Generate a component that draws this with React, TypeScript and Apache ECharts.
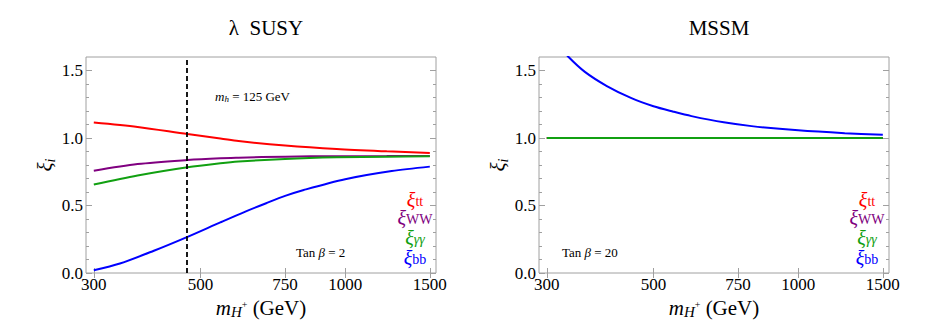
import React, { useEffect, useRef } from 'react';
import * as echarts from 'echarts';

// ---------- data ----------
const massLeft = [300, 370, 470, 550, 600, 750, 960, 1220, 1500];
const xiTTLeft = [1.114, 1.082, 1.029, 0.997, 0.977, 0.944, 0.918, 0.901, 0.889];
const xiWWLeft = [0.758, 0.807, 0.837, 0.85, 0.854, 0.862, 0.865, 0.866, 0.867];
const xiGGLeft = [0.655, 0.722, 0.783, 0.813, 0.826, 0.845, 0.857, 0.862, 0.864];
const massLeftBB = [300, 340, 400, 470, 550, 620, 685, 750, 820, 1000, 1250, 1500];
const xiBBLeft = [0.02, 0.07, 0.165, 0.268, 0.375, 0.455, 0.517, 0.571, 0.615, 0.695, 0.755, 0.788];

const massRightFlat = [300, 1500];
const xiTTRight = [1.0, 1.0];
const xiWWRight = [1.0, 1.0];
const xiGGRight = [1.0, 1.0];
const massRightBB = [300, 320, 333, 360, 400, 450, 500, 550, 600, 700, 800, 1000, 1250, 1500];
const xiBBRight = [1.8, 1.675, 1.6, 1.49, 1.385, 1.295, 1.235, 1.195, 1.162, 1.116, 1.088, 1.057, 1.036, 1.024];

const dashedMass = 469;

const xTicks = [300, 500, 750, 1000, 1500];
const yMajorTicks = [0, 0.5, 1.0, 1.5];
const yMinorTicks = [0.1, 0.2, 0.3, 0.4, 0.6, 0.7, 0.8, 0.9, 1.1, 1.2, 1.3, 1.4];

const titles = ['λ  SUSY', 'MSSM'];

const X_MIN = 289;
const X_MAX = 1545;
const Y_MIN = 0;
const Y_MAX = 1.6;

const FONT = 'Liberation Serif';
const RED = '#ff0000';
const PURPLE = '#800080';
const GREEN = '#11a011';
const BLUE = '#0000ff';
const FRAME = '#a0a0a0';

const zip = (xs: number[], ys: number[]) => xs.map((x, i) => [x, ys[i]]);

function xAxesFor(gi: number) {
  const common = {
    type: 'log',
    logBase: 10,
    gridIndex: gi,
    min: X_MIN,
    max: X_MAX,
    axisLine: { show: false },
    splitLine: { show: false },
    axisTick: {
      show: true,
      inside: true,
      length: 5,
      lineStyle: { color: FRAME },
      customValues: xTicks,
    },
  };
  return [
    {
      ...common,
      position: 'bottom',
      axisLabel: {
        customValues: xTicks,
        fontFamily: FONT,
        fontSize: 17,
        fontWeight: 'normal',
        color: '#000',
        margin: 3,
        formatter: (v: number) => String(Math.round(v)),
      },
      name: '{m|m}{h|H}{p|+}{g| (GeV)}',
      nameLocation: 'middle',
      nameGap: 22,
      nameTextStyle: {
        fontFamily: FONT,
        color: '#000',
        rich: {
          m: { fontFamily: FONT, fontSize: 21, fontStyle: 'italic', color: '#000' },
          h: { fontFamily: FONT, fontSize: 15, fontStyle: 'italic', color: '#000', padding: [8, 0, 0, 0] },
          p: { fontFamily: FONT, fontSize: 10, color: '#000', padding: [0, 0, 8, 0] },
          g: { fontFamily: FONT, fontSize: 21, color: '#000' },
        },
      },
    },
    {
      ...common,
      position: 'top',
      axisLabel: { show: false },
    },
  ];
}

function yAxesFor(gi: number) {
  const base = {
    type: 'value',
    gridIndex: gi,
    min: Y_MIN,
    max: Y_MAX,
    axisLine: { show: false },
    splitLine: { show: false },
  };
  const major = (pos: string, labels: boolean) => ({
    ...base,
    position: pos,
    axisTick: { show: true, inside: true, length: 6, lineStyle: { color: FRAME }, customValues: yMajorTicks },
    axisLabel: labels
      ? {
          customValues: yMajorTicks,
          fontFamily: FONT,
          fontSize: 17,
          fontWeight: 'normal',
          color: '#000',
          margin: 3,
          formatter: (v: number) => v.toFixed(1),
        }
      : { show: false },
    ...(labels
      ? {
          name: '{x|ξ}{s|i}',
          nameLocation: 'middle',
          nameGap: 29,
          nameRotate: 90,
          nameTextStyle: {
            fontFamily: FONT,
            rich: {
              x: { fontFamily: FONT, fontSize: 21, fontStyle: 'italic', color: '#000' },
              s: { fontFamily: FONT, fontSize: 14, fontStyle: 'italic', color: '#000', padding: [10, 0, 0, 0] },
            },
          },
        }
      : {}),
  });
  const minor = (pos: string) => ({
    ...base,
    position: pos,
    axisTick: { show: true, inside: true, length: 3, lineStyle: { color: FRAME }, customValues: yMinorTicks },
    axisLabel: { show: false },
  });
  return [major('left', true), minor('left'), major('right', false), minor('right')];
}

function lineSeries(name: string, gi: number, data: number[][], color: string, extra: any = {}) {
  return {
    type: 'line',
    name,
    xAxisIndex: gi * 2,
    yAxisIndex: gi * 4,
    data,
    smooth: 0.3,
    showSymbol: false,
    symbol: 'none',
    clip: true,
    lineStyle: { color, width: 2 },
    itemStyle: { color },
    ...extra,
  };
}

function legendTexts(cx: number) {
  const rows = [
    { y: 200, color: RED, sub: 'tt', italicSub: false },
    { y: 218, color: PURPLE, sub: 'WW', italicSub: false },
    { y: 238, color: GREEN, sub: 'γγ', italicSub: true },
    { y: 258, color: BLUE, sub: 'bb', italicSub: false },
  ];
  return rows.map((r) => ({
    type: 'text',
    x: cx,
    y: r.y,
    silent: true,
    style: {
      text: '{a|ξ}{b|' + r.sub + '}',
      align: 'center',
      verticalAlign: 'middle',
      fill: r.color,
      rich: {
        a: { fontFamily: FONT, fontSize: 20, fontStyle: 'italic', fill: r.color, color: r.color },
        b: {
          fontFamily: FONT,
          fontSize: 14,
          fontStyle: r.italicSub ? 'italic' : 'normal',
          fill: r.color,
          color: r.color,
          padding: [3, 0, 0, 0],
        },
      },
    },
  }));
}

function annotation(x: number, y: number, text: string) {
  return {
    type: 'text',
    x,
    y,
    silent: true,
    style: {
      text,
      align: 'left',
      verticalAlign: 'middle',
      fill: '#000',
      rich: {
        n: { fontFamily: FONT, fontSize: 13, fill: '#000', color: '#000' },
        i: { fontFamily: FONT, fontSize: 13, fontStyle: 'italic', fill: '#000', color: '#000' },
        s: { fontFamily: FONT, fontSize: 9, fontStyle: 'italic', fill: '#000', color: '#000', padding: [6, 0, 0, 0] },
      },
    },
  };
}

export default function App() {
  const ref = useRef<HTMLDivElement>(null);
  useEffect(() => {
    document.body.style.margin = '0';
    if (!ref.current) return;
    const chart = echarts.init(ref.current, undefined, { renderer: 'svg' });
    const option: any = {
      animation: false,
      backgroundColor: '#fff',
      textStyle: { fontFamily: FONT },
      title: [
        {
          text: titles[0],
          left: 261,
          top: 12,
          textAlign: 'center',
          textStyle: { fontFamily: FONT, fontSize: 21, fontWeight: 'normal', color: '#000' },
        },
        {
          text: titles[1],
          left: 714,
          top: 12,
          textAlign: 'center',
          textStyle: { fontFamily: FONT, fontSize: 21, fontWeight: 'normal', color: '#000' },
        },
      ],
      grid: [
        { left: 86, top: 57, width: 350, height: 216, show: true, borderColor: FRAME, borderWidth: 1, backgroundColor: 'transparent' },
        { left: 539, top: 57, width: 350, height: 216, show: true, borderColor: FRAME, borderWidth: 1, backgroundColor: 'transparent' },
      ],
      xAxis: [...xAxesFor(0), ...xAxesFor(1)],
      yAxis: [...yAxesFor(0), ...yAxesFor(1)],
      series: [
        lineSeries('ξtt λSUSY', 0, zip(massLeft, xiTTLeft), RED, {
          markLine: {
            silent: true,
            symbol: ['none', 'none'],
            label: { show: false },
            lineStyle: { color: '#000', type: [5, 3], width: 1.8 },
            data: [{ xAxis: dashedMass }],
          },
        }),
        lineSeries('ξWW λSUSY', 0, zip(massLeft, xiWWLeft), PURPLE),
        lineSeries('ξγγ λSUSY', 0, zip(massLeft, xiGGLeft), GREEN),
        lineSeries('ξbb λSUSY', 0, zip(massLeftBB, xiBBLeft), BLUE),
        lineSeries('ξtt MSSM', 1, zip(massRightFlat, xiTTRight), RED),
        lineSeries('ξWW MSSM', 1, zip(massRightFlat, xiWWRight), PURPLE),
        lineSeries('ξγγ MSSM', 1, zip(massRightFlat, xiGGRight), GREEN),
        lineSeries('ξbb MSSM', 1, zip(massRightBB, xiBBRight), BLUE),
      ],
      graphic: [
        annotation(215, 96, '{i|m}{s|h}{n| = 125 GeV}'),
        annotation(296, 252, '{n|Tan }{i|β}{n| = 2}'),
        annotation(562, 252, '{n|Tan }{i|β}{n| = 20}'),
        ...legendTexts(415),
        ...legendTexts(867),
      ],
    };
    chart.setOption(option);
    return () => chart.dispose();
  }, []);
  return <div ref={ref} style={{ width: 937, height: 333 }} />;
}
